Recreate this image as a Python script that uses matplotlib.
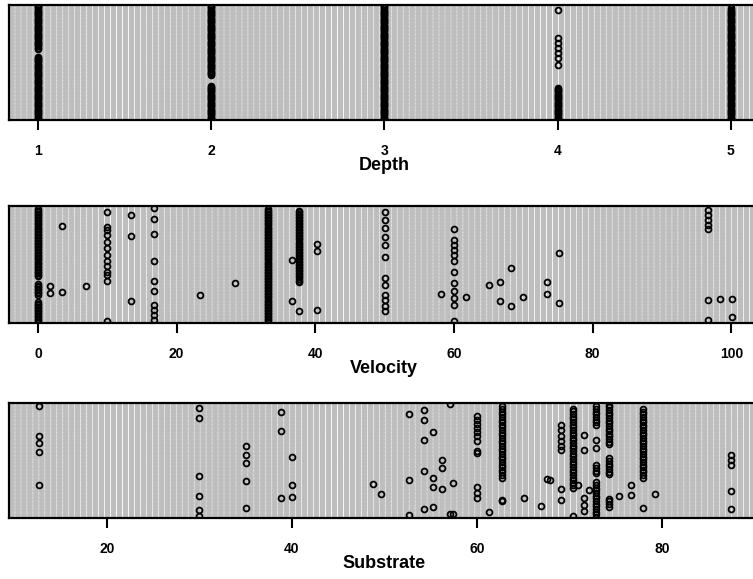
import numpy as np
import matplotlib
matplotlib.use("Agg")
import matplotlib.pyplot as plt

plt.rcParams['font.family'] = ['Liberation Sans', 'DejaVu Sans']

W, H, DPI = 753, 579, 100

# ---------------- data (y = position of the observation, 0..100 of panel height) ----------
# Depth
depth_ticks = [1, 2, 3, 4, 5]
depth_runs = [(1, 1, 55), (1, 62, 99), (2, 1, 30), (2, 39, 99), (3, 1, 99),
              (4, 1, 28), (5, 1, 97)]
depth_x = [4, 4, 4, 4, 4, 4, 4]
depth_y = [95.7, 71.0, 66.7, 62.3, 58.0, 53.6, 47.8]

# Velocity
velocity_ticks = [0, 20, 40, 60, 80, 100]
velocity_runs = [(0, 40, 98), (0, 24, 34), (0, 1, 18), (33.2, 1, 98), (37.7, 35, 97)]
velocity_x = [1.7, 1.7, 3.5, 3.5, 6.9,
              10, 10, 10, 10, 10, 10, 10, 10, 10, 10, 10, 10, 10,
              13.4, 13.4, 13.4,
              16.7, 16.7, 16.7, 16.7, 16.7, 16.7, 16.7, 16.7, 16.7, 16.7,
              23.3, 28.4, 36.6, 36.6, 37.7, 40.2, 40.2, 40.2,
              50, 50, 50, 50, 50, 50, 50, 50, 50, 50, 50, 50,
              58.2,
              60, 60, 60, 60, 60, 60, 60, 60, 60, 60, 60, 60,
              61.8, 65.1, 66.6, 66.6, 68.2, 68.2, 69.9, 73.4, 73.4, 75.1, 75.1,
              96.7, 96.7, 96.7, 96.7, 96.7, 96.7, 96.7, 98.4, 100.1, 100.1]
velocity_y = [31.3, 25.6, 83.2, 26.4, 31.8,
              95.2, 82.4, 79.5, 75.3, 69.6, 63.9, 58.2, 52.6, 48.3, 44.0, 41.2, 36.1, 1.4,
              92.3, 74.7, 18.5,
              98.0, 88.6, 76.1, 53.4, 36.1, 27.0, 15.6, 11.4, 7.1, 2.8,
              23.6, 34.1, 54.0, 18.5, 10.0, 67.3, 61.6, 10.8,
              95.2, 88.1, 81.0, 73.9, 66.8, 56.8, 38.4, 32.7, 24.1, 19.9, 14.2, 10.5,
              24.7,
              80.1, 71.0, 66.8, 62.5, 58.2, 52.6, 44.0, 34.1, 27.0, 21.3, 15.6, 2.0,
              22.2, 32.7, 34.9, 19.0, 46.9, 14.8, 22.2, 34.9, 25.0, 60.2, 17.0,
              96.6, 92.3, 88.1, 83.8, 80.4, 19.9, 2.8, 20.7, 20.7, 4.8]

# Substrate
substrate_ticks = [20, 40, 60, 80]
substrate_runs = [(62.7, 35, 99), (70.4, 26, 96), (72.9, 81, 99), (72.9, 39, 48),
                  (72.9, 1, 32), (74.3, 64, 99), (74.3, 38, 54), (74.3, 10, 19),
                  (77.9, 35, 97)]
substrate_x = [12.6, 12.6, 12.6, 12.6, 12.6,
               30.0, 30.0, 30.0, 30.0, 30.0, 30.0,
               35.0, 35.0, 35.0, 35.0, 35.0,
               38.8, 38.8, 38.8, 40.0, 40.0, 40.0,
               48.8, 49.6, 52.7, 52.7, 52.7,
               54.3, 54.3, 54.3, 54.3, 54.3,
               55.2, 55.2, 55.2, 55.2, 56.2, 56.2, 56.2,
               57.1, 57.1, 57.4, 57.4,
               60, 60, 60, 60, 60, 60, 60, 60, 60, 60, 60, 60,
               61.3, 62.7, 62.7, 65.1, 66.9, 67.6, 67.9,
               69.1, 69.1, 69.1, 69.1, 69.1, 69.1, 69.1, 69.1,
               70.4, 70.9, 71.6, 71.6, 71.6, 71.6, 71.6, 72.1, 72.9, 72.9,
               75.4, 76.6, 76.6, 77.9, 79.2,
               87.5, 87.5, 87.5, 87.5, 87.5]
substrate_y = [97.1, 71.0, 65.2, 57.1, 29.0,
               95.7, 87.0, 36.2, 18.8, 6.7, 2.0,
               62.3, 55.1, 47.8, 31.9, 8.7,
               91.9, 75.9, 17.4, 52.8, 29.0, 18.3,
               29.9, 21.2, 90.7, 32.8, 2.9,
               93.6, 84.9, 68.1, 40.6, 7.8,
               74.8, 34.8, 27.0, 9.3, 50.7, 43.5, 25.2,
               99.4, 3.5, 30.4, 3.5,
               89.0, 85.5, 81.7, 78.3, 74.5, 71.0, 66.7, 58.0, 56.5, 27.0, 21.7, 17.4,
               4.9, 14.5, 15.5, 17.4, 10.1, 33.9, 32.8,
               81.2, 76.8, 71.0, 66.7, 62.3, 59.4, 25.2, 15.4,
               1.4, 29.0, 72.5, 59.4, 17.4, 11.6, 5.8, 24.6, 68.1, 60.9,
               19.4, 29.0, 20.3, 8.7, 21.2,
               55.1, 50.7, 46.4, 23.2, 7.8]

panels = [
    dict(label="Depth", ticks=depth_ticks, runs=depth_runs, x=depth_x, y=depth_y,
         xlim=(0.833, 5.162), top=5, bottom=120, step=1.0),
    dict(label="Velocity", ticks=velocity_ticks, runs=velocity_runs, x=velocity_x,
         y=velocity_y, xlim=(-4.18, 104.0), top=206, bottom=323, step=1.3),
    dict(label="Substrate", ticks=substrate_ticks, runs=substrate_runs, x=substrate_x,
         y=substrate_y, xlim=(9.41, 90.49), top=403, bottom=518, step=2.3),
]

guide_rows = np.arange(0.25, 100, 0.5)
MS, MEW = 4.2, 1.3

fig = plt.figure(figsize=(W / DPI, H / DPI), dpi=DPI)
left_px, right_px = 9, 759

for p in panels:
    ax = fig.add_axes([left_px / W, 1 - p["bottom"] / H,
                       (right_px - left_px) / W, (p["bottom"] - p["top"]) / H])
    ax.set_xlim(*p["xlim"])
    ax.set_ylim(0, 100)
    ax.hlines(guide_rows, p["xlim"][0], p["xlim"][1], colors="#bebebe",
              linewidth=1.0, linestyles=(0, (3.6, 0.7)), zorder=1)
    for (xv, lo, hi) in p["runs"]:
        ys = np.arange(lo, hi + 0.01, p["step"])
        ax.plot(np.full(len(ys), xv), ys, "o", mfc="none", mec="black",
                ms=MS, mew=MEW, zorder=3)
    ax.plot(p["x"], p["y"], "o", mfc="none", mec="black", ms=MS, mew=MEW, zorder=3)
    ax.set_xticks(p["ticks"])
    ax.set_xticklabels([str(t) for t in p["ticks"]], fontweight="bold")
    ax.set_yticks([])
    ax.tick_params(axis="x", direction="out", length=7, width=1.5, pad=10,
                   labelsize=10, colors="black")
    for s in ax.spines.values():
        s.set_linewidth(1.6)
        s.set_color("black")
    cx = (left_px + right_px) / 2 / W
    fig.text(cx, 1 - (p["bottom"] + 50) / H, p["label"], ha="center",
             va="baseline", fontsize=13, fontweight="bold")

fig.savefig("out.png", dpi=DPI)
